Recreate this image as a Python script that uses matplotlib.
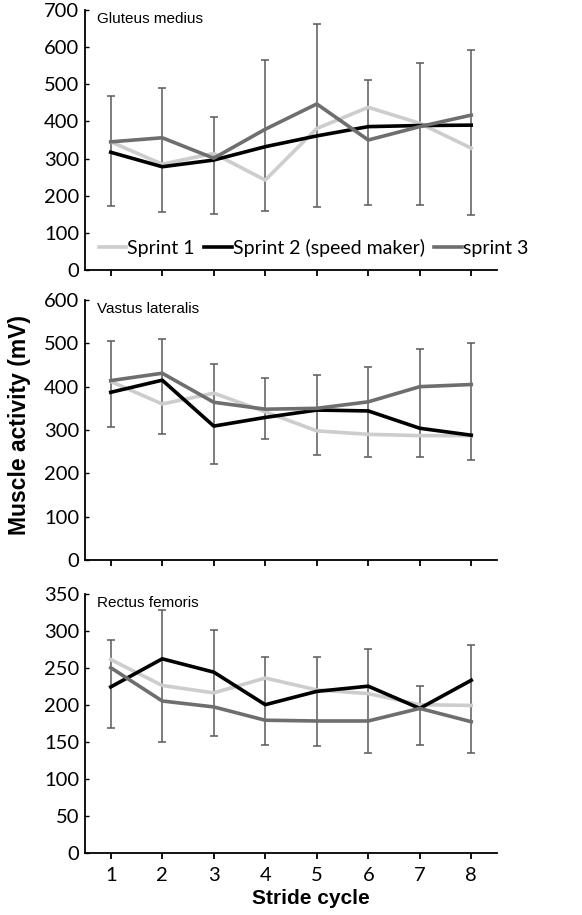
import matplotlib.pyplot as plt
import numpy as np

plt.rcParams['font.family'] = ['Lato', 'DejaVu Sans']

# stride cycles
stride = [1, 2, 3, 4, 5, 6, 7, 8]
series_names = ["Sprint 1", "Sprint 2 (speed maker)", "sprint 3"]

# Gluteus medius
glut_s1 = [345, 285, 314, 242, 381, 438, 395, 328]
glut_s2 = [317, 278, 296, 332, 361, 386, 389, 390]
glut_s3 = [345, 356, 301, 379, 447, 350, 386, 417]
glut_err_lo = [171, 156, 150, 159, 169, 174, 176, 148]
glut_err_hi = [468, 489, 413, 565, 662, 512, 558, 592]

# Vastus lateralis
vast_s1 = [412, 360, 385, 342, 298, 290, 287, 287]
vast_s2 = [387, 415, 309, 329, 346, 344, 304, 288]
vast_s3 = [414, 431, 364, 348, 350, 365, 400, 405]
vast_err_lo = [306, 290, 222, 279, 242, 238, 237, 231]
vast_err_hi = [505, 510, 452, 419, 426, 445, 487, 501]

# Rectus femoris
rect_s1 = [261, 226, 216, 236, 220, 215, 200, 199]
rect_s2 = [224, 262, 244, 200, 218, 225, 195, 233]
rect_s3 = [250, 205, 197, 179, 178, 178, 195, 177]
rect_err_lo = [169, 150, 158, 146, 144, 135, 146, 135]
rect_err_hi = [288, 328, 301, 265, 264, 275, 225, 281]

colors = ["#cdcdcd", "#000000", "#6e6e6e"]


def draw_panel(ax, title, s1, s2, s3, lo, hi, ymax, ystep):
    lo = np.array(lo)
    hi = np.array(hi)
    ax.errorbar(stride, lo, yerr=[np.zeros(len(lo)), hi - lo], fmt='none',
                ecolor="#5a5a5a", elinewidth=1.1, capsize=3, capthick=1.1, zorder=1)
    lines = []
    for vals, c in zip([s1, s2, s3], colors):
        ln, = ax.plot(stride, vals, color=c, linewidth=2.6, zorder=2)
        lines.append(ln)
    ax.set_xlim(0.5, 8.5)
    ax.set_ylim(0, ymax)
    ax.set_yticks(np.arange(0, ymax + 1, ystep))
    ax.set_xticks(stride)
    ax.spines['top'].set_visible(False)
    ax.spines['right'].set_visible(False)
    ax.spines['left'].set_linewidth(1.3)
    ax.spines['bottom'].set_linewidth(1.3)
    ax.tick_params(axis='y', direction='in', length=3, width=1, labelsize=14.5, pad=4)
    ax.tick_params(axis='x', direction='out', length=4, width=1.3, labelsize=14.5, pad=6)
    ax.text(0.029, 0.965, title, transform=ax.transAxes, ha='left', va='center',
            fontsize=11, family='Liberation Sans')
    return lines


fig = plt.figure(figsize=(5.82, 9.15), dpi=100)
left = 85 / 582
width = (497 - 85) / 582
ax1 = fig.add_axes([left, 1 - 270 / 915, width, 260 / 915])
ax2 = fig.add_axes([left, 1 - 560 / 915, width, 260 / 915])
ax3 = fig.add_axes([left, 1 - 852.7 / 915, width, 259 / 915])

lines = draw_panel(ax1, "Gluteus medius", glut_s1, glut_s2, glut_s3,
                   glut_err_lo, glut_err_hi, 700, 100)
draw_panel(ax2, "Vastus lateralis", vast_s1, vast_s2, vast_s3,
           vast_err_lo, vast_err_hi, 600, 100)
draw_panel(ax3, "Rectus femoris", rect_s1, rect_s2, rect_s3,
           rect_err_lo, rect_err_hi, 350, 50)

ax1.tick_params(axis='x', labelbottom=False)
ax2.tick_params(axis='x', labelbottom=False)

ax1.legend(lines, series_names, loc='center left', bbox_to_anchor=(0.034, 0.085),
           ncol=3, frameon=False, fontsize=14, handlelength=1.4, handletextpad=0.05,
           columnspacing=0.5, borderpad=0, borderaxespad=0)

fig.text(20 / 582, 1 - 425 / 915, "Muscle activity (mV)", rotation=90, ha='center',
         va='center', fontsize=16.5, fontweight='bold', family='Liberation Sans')
fig.text(311 / 582, 1 - 898 / 915, "Stride cycle", ha='center', va='center',
         fontsize=15, fontweight='bold', family='Liberation Sans')

fig.savefig("out.png", dpi=100)
